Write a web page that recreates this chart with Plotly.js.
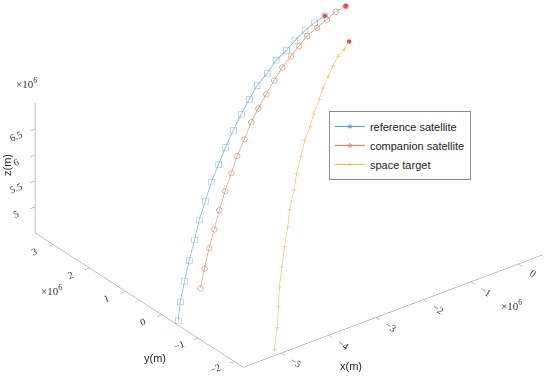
<!DOCTYPE html>
<html>
<head>
<meta charset="utf-8">
<script src="https://cdn.plot.ly/plotly-3.0.1.min.js"></script>
<style>
  html, body { margin: 0; padding: 0; background: #fff; }
  #graph { width: 550px; height: 380px; }
</style>
</head>
<body>
<div id="graph"></div>
<script>
// positions in units of 1e6 m, first point is the start of each arc
const refX = [-5.73, -5.45, -5.16, -4.88, -4.59, -4.31, -4.02, -3.74, -3.45, -3.17, -2.88, -2.60, -2.31, -2.03, -1.74, -1.46, -1.17, -0.89, -0.60, -0.32, -0.03];
const refY = [-0.36, -0.05, 0.21, 0.45, 0.68, 0.92, 1.13, 1.33, 1.51, 1.69, 1.85, 2.00, 2.16, 2.31, 2.41, 2.53, 2.63, 2.76, 2.86, 2.96, 3.06];
const refZ = [4.52, 4.65, 4.83, 5.03, 5.22, 5.40, 5.57, 5.75, 5.91, 6.06, 6.22, 6.36, 6.48, 6.58, 6.67, 6.77, 6.82, 6.85, 6.90, 6.91, 6.90];

const compX = [-4.85, -4.59, -4.33, -4.07, -3.81, -3.55, -3.29, -3.03, -2.77, -2.51, -2.25, -1.99, -1.73, -1.47, -1.21, -0.95, -0.69, -0.37, -0.05, 0.20, 0.45];
const compY = [0.18, 0.41, 0.62, 0.82, 1.02, 1.20, 1.37, 1.55, 1.69, 1.84, 1.99, 2.11, 2.23, 2.35, 2.45, 2.57, 2.69, 2.83, 2.98, 3.06, 3.11];
const compZ = [4.60, 4.79, 5.00, 5.18, 5.37, 5.57, 5.75, 5.91, 6.08, 6.25, 6.36, 6.49, 6.61, 6.72, 6.80, 6.85, 6.90, 6.89, 6.87, 6.90, 6.90];

const tgtX = [-5.05, -4.81, -4.56, -4.32, -4.07, -3.83, -3.58, -3.34, -3.09, -2.85, -2.60, -2.36, -2.11, -1.87, -1.62, -1.38, -1.13, -0.89, -0.64, -0.40, -0.15];
const tgtY = [-2.13, -1.89, -1.60, -1.31, -1.05, -0.81, -0.57, -0.31, -0.10, 0.14, 0.35, 0.56, 0.74, 0.95, 1.13, 1.34, 1.52, 1.71, 1.89, 2.04, 2.23];
const tgtZ = [4.54, 4.76, 4.95, 5.12, 5.30, 5.51, 5.69, 5.83, 6.02, 6.15, 6.30, 6.43, 6.53, 6.60, 6.70, 6.75, 6.81, 6.84, 6.86, 6.84, 6.82];

const seriesNames = ['reference satellite', 'companion satellite', 'space target'];
const xTicks = [-5, -4, -3, -2, -1, 0];
const yTicks = [-2, -1, 0, 1, 2, 3];
const zTicks = [5, 5.5, 6, 6.5];

const colors = ['#5aa3d2', '#e0876a', '#e8c05a'];

const traces = [
    { x: refX, y: refY, z: refZ, name: seriesNames[0], type: 'scatter3d', mode: 'lines+markers',
      line: { color: colors[0], width: 1.2 },
      marker: { symbol: 'square-open', size: 2.6, color: colors[0] } },
    { x: compX, y: compY, z: compZ, name: seriesNames[1], type: 'scatter3d', mode: 'lines+markers',
      line: { color: colors[1], width: 1.2 },
      marker: { symbol: 'circle-open', size: 3.4, color: colors[1] } },
    { x: tgtX, y: tgtY, z: tgtZ, name: seriesNames[2], type: 'scatter3d', mode: 'lines+markers',
      line: { color: colors[2], width: 1.2 },
      marker: { symbol: 'cross', size: 2.6, color: colors[2] } },
    { x: [refX[refX.length - 1], compX[compX.length - 1], tgtX[tgtX.length - 1]],
      y: [refY[refY.length - 1], compY[compY.length - 1], tgtY[tgtY.length - 1]],
      z: [refZ[refZ.length - 1], compZ[compZ.length - 1], tgtZ[tgtZ.length - 1]],
      type: 'scatter3d', mode: 'markers', showlegend: false,
      marker: { symbol: 'circle', size: 2.6, color: '#e04848' } }
];

const tickFont = { family: 'Liberation Serif, DejaVu Serif, serif', size: 11, color: '#333' };
const titleFont = { family: 'Liberation Sans, Arial, sans-serif', size: 11, color: '#222' };

function axis(range, vals) {
    return {
        title: { text: '' },
        range: range,
        tickvals: vals,
        tickfont: tickFont,
        showgrid: false,
        zeroline: false,
        showbackground: false,
        showspikes: false,
        showline: true,
        linecolor: '#808080',
        linewidth: 1,
        ticks: 'outside',
        ticklen: 6,
        tickcolor: '#808080'
    };
}

function note(text, px, py, angle, font) {
    return { text: text, x: px / 550, y: 1 - py / 380, xref: 'paper', yref: 'paper',
             xanchor: 'center', yanchor: 'middle',
             showarrow: false, textangle: angle, font: font };
}

// look-at point is moved off the box centre, so the eye moves with it
const lookAt = { x: -0.074, y: 0.021, z: -0.050 };
const viewDir = { x: -0.90, y: -1.18, z: 0.84 };

const layout = {
    width: 550,
    height: 380,
    margin: { l: 0, r: 0, t: 0, b: 0 },
    paper_bgcolor: '#fff',
    showlegend: true,
    legend: {
        x: 0.598, y: 0.708, xanchor: 'left', yanchor: 'top',
        bgcolor: '#fff', bordercolor: '#888', borderwidth: 1,
        itemwidth: 30,
        font: { family: 'Liberation Sans, Arial, sans-serif', size: 11, color: '#222' }
    },
    scene: {
        domain: { x: [0, 1], y: [0, 1] },
        aspectmode: 'manual',
        aspectratio: { x: 1.978, y: 1.806, z: 0.785 },
        xaxis: axis([-5.8, 0.5], xTicks),
        yaxis: axis([-2.25, 3.5], yTicks),
        zaxis: axis([4.5, 7.0], zTicks),
        camera: {
            projection: { type: 'orthographic' },
            up: { x: 0, y: 0, z: 1 },
            center: lookAt,
            eye: { x: lookAt.x + viewDir.x, y: lookAt.y + viewDir.y, z: lookAt.z + viewDir.z }
        }
    },
    annotations: [
        note('z(m)', 7, 165, -90, titleFont),
        note('y(m)', 155, 358, 0, titleFont),
        note('x(m)', 351, 366, 0, titleFont),
        note('×10<sup>6</sup>', 26, 83, 0, tickFont),
        note('×10<sup>6</sup>', 51, 290, 0, tickFont),
        note('×10<sup>6</sup>', 511, 305, 0, tickFont)
    ]
};

Plotly.newPlot('graph', traces, layout, { displayModeBar: false });
</script>
</body>
</html>
